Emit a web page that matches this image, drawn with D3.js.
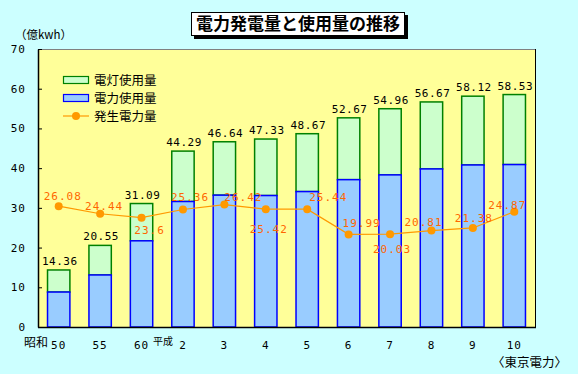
<!DOCTYPE html>
<html>
<head>
<meta charset="utf-8">
<script src="https://cdn.jsdelivr.net/npm/d3@7"></script>
<style>
  html, body { margin: 0; padding: 0; background: #ccffff; }
  svg { display: block; }
</style>
</head>
<body>
<div id="chart"></div>
<script>
// data
const years = ["50", "55", "60", "2", "3", "4", "5", "6", "7", "8", "9", "10"];
const totalUse = [14.36, 20.55, 31.09, 44.29, 46.64, 47.33, 48.67, 52.67, 54.96, 56.67, 58.12, 58.53];
const powerUse = [8.8, 13.1, 21.7, 31.6, 33.2, 33.1, 34.1, 37.1, 38.3, 39.8, 40.8, 40.9];
const generation = [26.08, 24.44, 23.6, 25.36, 26.42, 25.42, 25.44, 19.99, 20.03, 20.81, 21.38, 24.87];
const yTicks = [0, 10, 20, 30, 40, 50, 60, 70];

// where each generation label sits relative to its point (layout only)
const genLabelNudge = [
    [4, -10], [4, -8], [8, 12], [7, -12], [19, -8], [3, 20],
    [21, -12], [13, -11], [2, 15], [-8, -9], [1, -10], [-7, -7]
];

const W = 578, H = 374;
const plotL = 38, plotR = 535, plotT = 49, plotB = 327;
const MONO = "'DejaVu Sans Mono', monospace";
const JP = "'Noto Sans CJK JP', sans-serif";

const GREEN_FILL = "#ccffcc", GREEN_LINE = "#008000";
const BLUE_FILL = "#99ccff", BLUE_LINE = "#0000ff";
const ORANGE = "#ff9900", ORANGE_TEXT = "#ff6600";

const svg = d3.select("#chart").append("svg")
    .attr("width", W)
    .attr("height", H)
    .style("background", "#ccffff");

const x = d3.scaleBand().domain(years).range([plotL, plotR]).paddingInner(0.46).paddingOuter(0.23);
const y = d3.scaleLinear().domain([0, 70]).range([plotB, plotT]);
const y2 = d3.scaleLinear().domain([0, 60]).range([plotB, plotT]); // generation line runs on its own scale

// plot area
svg.append("rect")
    .attr("x", plotL).attr("y", plotT)
    .attr("width", plotR - plotL).attr("height", plotB - plotT)
    .attr("fill", "#ffff99");
svg.append("line")
    .attr("x1", plotL).attr("x2", plotR).attr("y1", plotT + 0.5).attr("y2", plotT + 0.5)
    .attr("stroke", "#808080");
svg.append("line")
    .attr("x1", plotR + 0.5).attr("x2", plotR + 0.5).attr("y1", plotT).attr("y2", plotB)
    .attr("stroke", "#000");

// bars
const rows = years.map((yr, i) => ({ yr, total: totalUse[i], power: powerUse[i] }));
const bars = svg.append("g");
bars.selectAll("rect.light")
    .data(rows)
    .enter().append("rect")
    .attr("class", "light")
    .attr("x", d => x(d.yr))
    .attr("y", d => y(d.total))
    .attr("width", x.bandwidth())
    .attr("height", d => y(d.power) - y(d.total))
    .attr("fill", GREEN_FILL)
    .attr("stroke", GREEN_LINE)
    .attr("stroke-width", 1.5);
bars.selectAll("rect.power")
    .data(rows)
    .enter().append("rect")
    .attr("class", "power")
    .attr("x", d => x(d.yr))
    .attr("y", d => y(d.power))
    .attr("width", x.bandwidth())
    .attr("height", d => y(0) - y(d.power))
    .attr("fill", BLUE_FILL)
    .attr("stroke", BLUE_LINE)
    .attr("stroke-width", 1.5);

// total labels
svg.append("g").selectAll("text")
    .data(rows)
    .enter().append("text")
    .attr("x", d => x(d.yr) + x.bandwidth() / 2 + 1)
    .attr("y", d => y(d.total) - 5)
    .attr("text-anchor", "middle")
    .style("font-family", MONO)
    .style("font-size", "11px")
    .style("letter-spacing", "0.5px")
    .attr("fill", "#000")
    .text(d => d.total);

// axes
const yAxis = svg.append("g")
    .attr("transform", `translate(${plotL},0)`)
    .call(d3.axisLeft(y).tickValues(yTicks).tickSizeInner(-4).tickSizeOuter(0).tickPadding(12));
yAxis.select(".domain").attr("stroke", "#000").attr("stroke-width", 1.5);
yAxis.selectAll(".tick line").attr("stroke", "#000");
yAxis.selectAll(".tick text")
    .style("font-family", MONO)
    .style("font-size", "11px")
    .style("letter-spacing", "1px")
    .attr("fill", "#000");

svg.append("line")
    .attr("x1", plotL).attr("x2", plotR + 1).attr("y1", plotB + 0.5).attr("y2", plotB + 0.5)
    .attr("stroke", "#000").attr("stroke-width", 1.5);

const xAxis = svg.append("g")
    .attr("transform", `translate(0,${plotB})`)
    .call(d3.axisBottom(x).tickSize(0).tickPadding(14));
xAxis.select(".domain").remove();
xAxis.selectAll(".tick text")
    .style("font-family", MONO)
    .style("font-size", "11px")
    .style("letter-spacing", "1px")
    .attr("fill", "#000");

svg.append("text")
    .attr("x", 24).attr("y", 347)
    .style("font-family", JP).style("font-size", "12px")
    .text("昭和");
svg.append("text")
    .attr("x", 153).attr("y", 345)
    .style("font-family", JP).style("font-size", "10px")
    .text("平成");

svg.append("text")
    .attr("x", 15).attr("y", 39)
    .style("font-family", JP).style("font-size", "11.5px")
    .text("（億kwh）");

// generation line
const genPts = years.map((yr, i) => ({ yr, v: generation[i], i }));
const line = d3.line().x(d => x(d.yr) + x.bandwidth() / 2).y(d => y2(d.v));
svg.append("path")
    .datum(genPts)
    .attr("d", line)
    .attr("fill", "none")
    .attr("stroke", ORANGE)
    .attr("stroke-width", 1.2);
svg.append("g").selectAll("circle")
    .data(genPts)
    .enter().append("circle")
    .attr("cx", d => x(d.yr) + x.bandwidth() / 2)
    .attr("cy", d => y2(d.v))
    .attr("r", 4)
    .attr("fill", ORANGE);
svg.append("g").selectAll("text")
    .data(genPts)
    .enter().append("text")
    .attr("x", d => x(d.yr) + x.bandwidth() / 2 + genLabelNudge[d.i][0])
    .attr("y", d => y2(d.v) + genLabelNudge[d.i][1] + 4)
    .attr("text-anchor", "middle")
    .style("font-family", MONO)
    .style("font-size", "11px")
    .style("letter-spacing", "1px")
    .attr("fill", ORANGE_TEXT)
    .text(d => d.v);

// legend
const legend = svg.append("g").attr("transform", "translate(63,80)");
const legendItems = [
    { label: "電灯使用量", kind: "light" },
    { label: "電力使用量", kind: "power" },
    { label: "発生電力量", kind: "gen" }
];
legendItems.forEach((it, i) => {
    const g = legend.append("g").attr("transform", `translate(0,${i * 18})`);
    if (it.kind === "gen") {
        g.append("line").attr("x1", 0).attr("x2", 26).attr("y1", 0).attr("y2", 0)
            .attr("stroke", ORANGE).attr("stroke-width", 1.2);
        g.append("circle").attr("cx", 13).attr("cy", 0).attr("r", 4).attr("fill", ORANGE);
    } else {
        g.append("rect").attr("x", 0.5).attr("y", -3.5).attr("width", 25).attr("height", 7)
            .attr("fill", it.kind === "light" ? GREEN_FILL : BLUE_FILL)
            .attr("stroke", it.kind === "light" ? GREEN_LINE : BLUE_LINE)
            .attr("stroke-width", 1.2);
    }
    g.append("text")
        .attr("x", 31).attr("y", 5)
        .style("font-family", JP).style("font-size", "12.5px")
        .text(it.label);
});

// title box
svg.append("rect")
    .attr("x", 194).attr("y", 15).attr("width", 214).attr("height", 24)
    .attr("fill", "#000");
svg.append("rect")
    .attr("x", 191.5).attr("y", 12.5).attr("width", 213).attr("height", 23)
    .attr("fill", "#fff").attr("stroke", "#000").attr("stroke-width", 1);
svg.append("text")
    .attr("x", 298).attr("y", 30)
    .attr("text-anchor", "middle")
    .style("font-family", JP).style("font-size", "17px").style("font-weight", "bold")
    .text("電力発電量と使用量の推移");

// source note
svg.append("text")
    .attr("x", 567).attr("y", 367)
    .attr("text-anchor", "end")
    .style("font-family", JP).style("font-size", "12.5px")
    .text("〈東京電力〉");
</script>
</body>
</html>
